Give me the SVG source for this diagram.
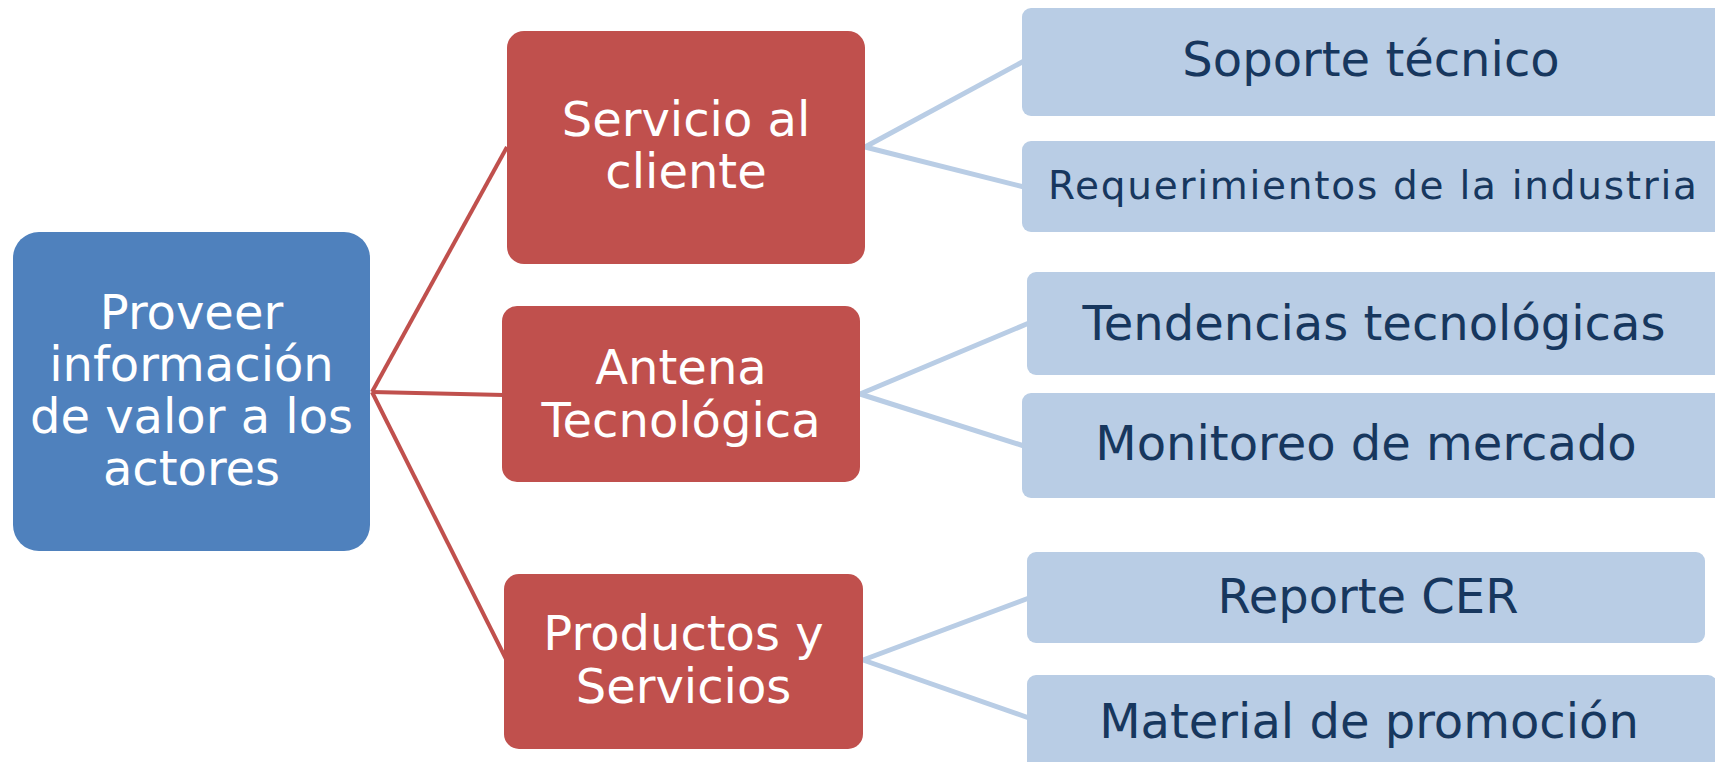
<svg xmlns="http://www.w3.org/2000/svg" width="1715" height="762" viewBox="0 0 1715 762">
<style>
.root{fill:#4F81BD}
.mid{fill:#C0504D}
.leaf{fill:#B9CDE5}
.wt{font-family:"DejaVu Sans","Noto Sans",sans-serif;font-size:48px;fill:#FFFFFF;text-anchor:middle}
.dt{font-family:"DejaVu Sans","Noto Sans",sans-serif;font-size:48px;fill:#17375E;text-anchor:middle}
.rl{stroke:#C0504D;stroke-width:4;fill:none}
.bl{stroke:#B9CDE5;stroke-width:5;fill:none}
</style>
<rect width="1715" height="762" fill="#FFFFFF"/>
<g id="connectors">
<line class="rl" x1="372" y1="392" x2="507" y2="147"/>
<line class="rl" x1="372" y1="392" x2="504" y2="395"/>
<line class="rl" x1="372" y1="392" x2="506" y2="659"/>
<line class="bl" x1="865" y1="147" x2="1024" y2="61"/>
<line class="bl" x1="865" y1="147" x2="1024" y2="187"/>
<line class="bl" x1="860" y1="394" x2="1029" y2="323"/>
<line class="bl" x1="860" y1="394" x2="1024" y2="446"/>
<line class="bl" x1="863" y1="660" x2="1029" y2="598"/>
<line class="bl" x1="863" y1="660" x2="1029" y2="718"/>
</g>
<g id="root">
<rect class="root" x="13" y="232" width="357" height="319" rx="26"/>
<text class="wt" x="191.5" y="329">Proveer</text>
<text class="wt" x="191.5" y="381">información</text>
<text class="wt" x="191.5" y="433">de valor a los</text>
<text class="wt" x="191.5" y="485">actores</text>
</g>
<g id="servicio">
<rect class="mid" x="507" y="31" width="358" height="233" rx="17"/>
<text class="wt" x="686" y="136">Servicio al</text>
<text class="wt" x="686" y="188">cliente</text>
</g>
<g id="antena">
<rect class="mid" x="502" y="306" width="358" height="176" rx="15"/>
<text class="wt" x="681" y="384">Antena</text>
<text class="wt" x="681" y="437">Tecnológica</text>
</g>
<g id="productos">
<rect class="mid" x="504" y="574" width="359" height="175" rx="15"/>
<text class="wt" x="683.5" y="650">Productos y</text>
<text class="wt" x="683.5" y="703">Servicios</text>
</g>
<g id="soporte">
<rect class="leaf" x="1022" y="8" width="703" height="108" rx="9"/>
<text class="dt" x="1371" y="76">Soporte técnico</text>
</g>
<g id="requerimientos">
<rect class="leaf" x="1022" y="141" width="703" height="91" rx="9"/>
<text class="dt" x="1372.5" y="199" style="font-size:39px" textLength="649" lengthAdjust="spacing">Requerimientos de la industria</text>
</g>
<g id="tendencias">
<rect class="leaf" x="1027" y="272" width="698" height="103" rx="9"/>
<text class="dt" x="1374" y="340">Tendencias tecnológicas</text>
</g>
<g id="monitoreo">
<rect class="leaf" x="1022" y="393" width="703" height="105" rx="9"/>
<text class="dt" x="1366" y="460">Monitoreo de mercado</text>
</g>
<g id="reporte">
<rect class="leaf" x="1027" y="552" width="678" height="91" rx="9"/>
<text class="dt" x="1368" y="613">Reporte CER</text>
</g>
<g id="material">
<rect class="leaf" x="1027" y="675" width="690" height="100" rx="9"/>
<text class="dt" x="1369" y="738">Material de promoción</text>
</g>
</svg>
